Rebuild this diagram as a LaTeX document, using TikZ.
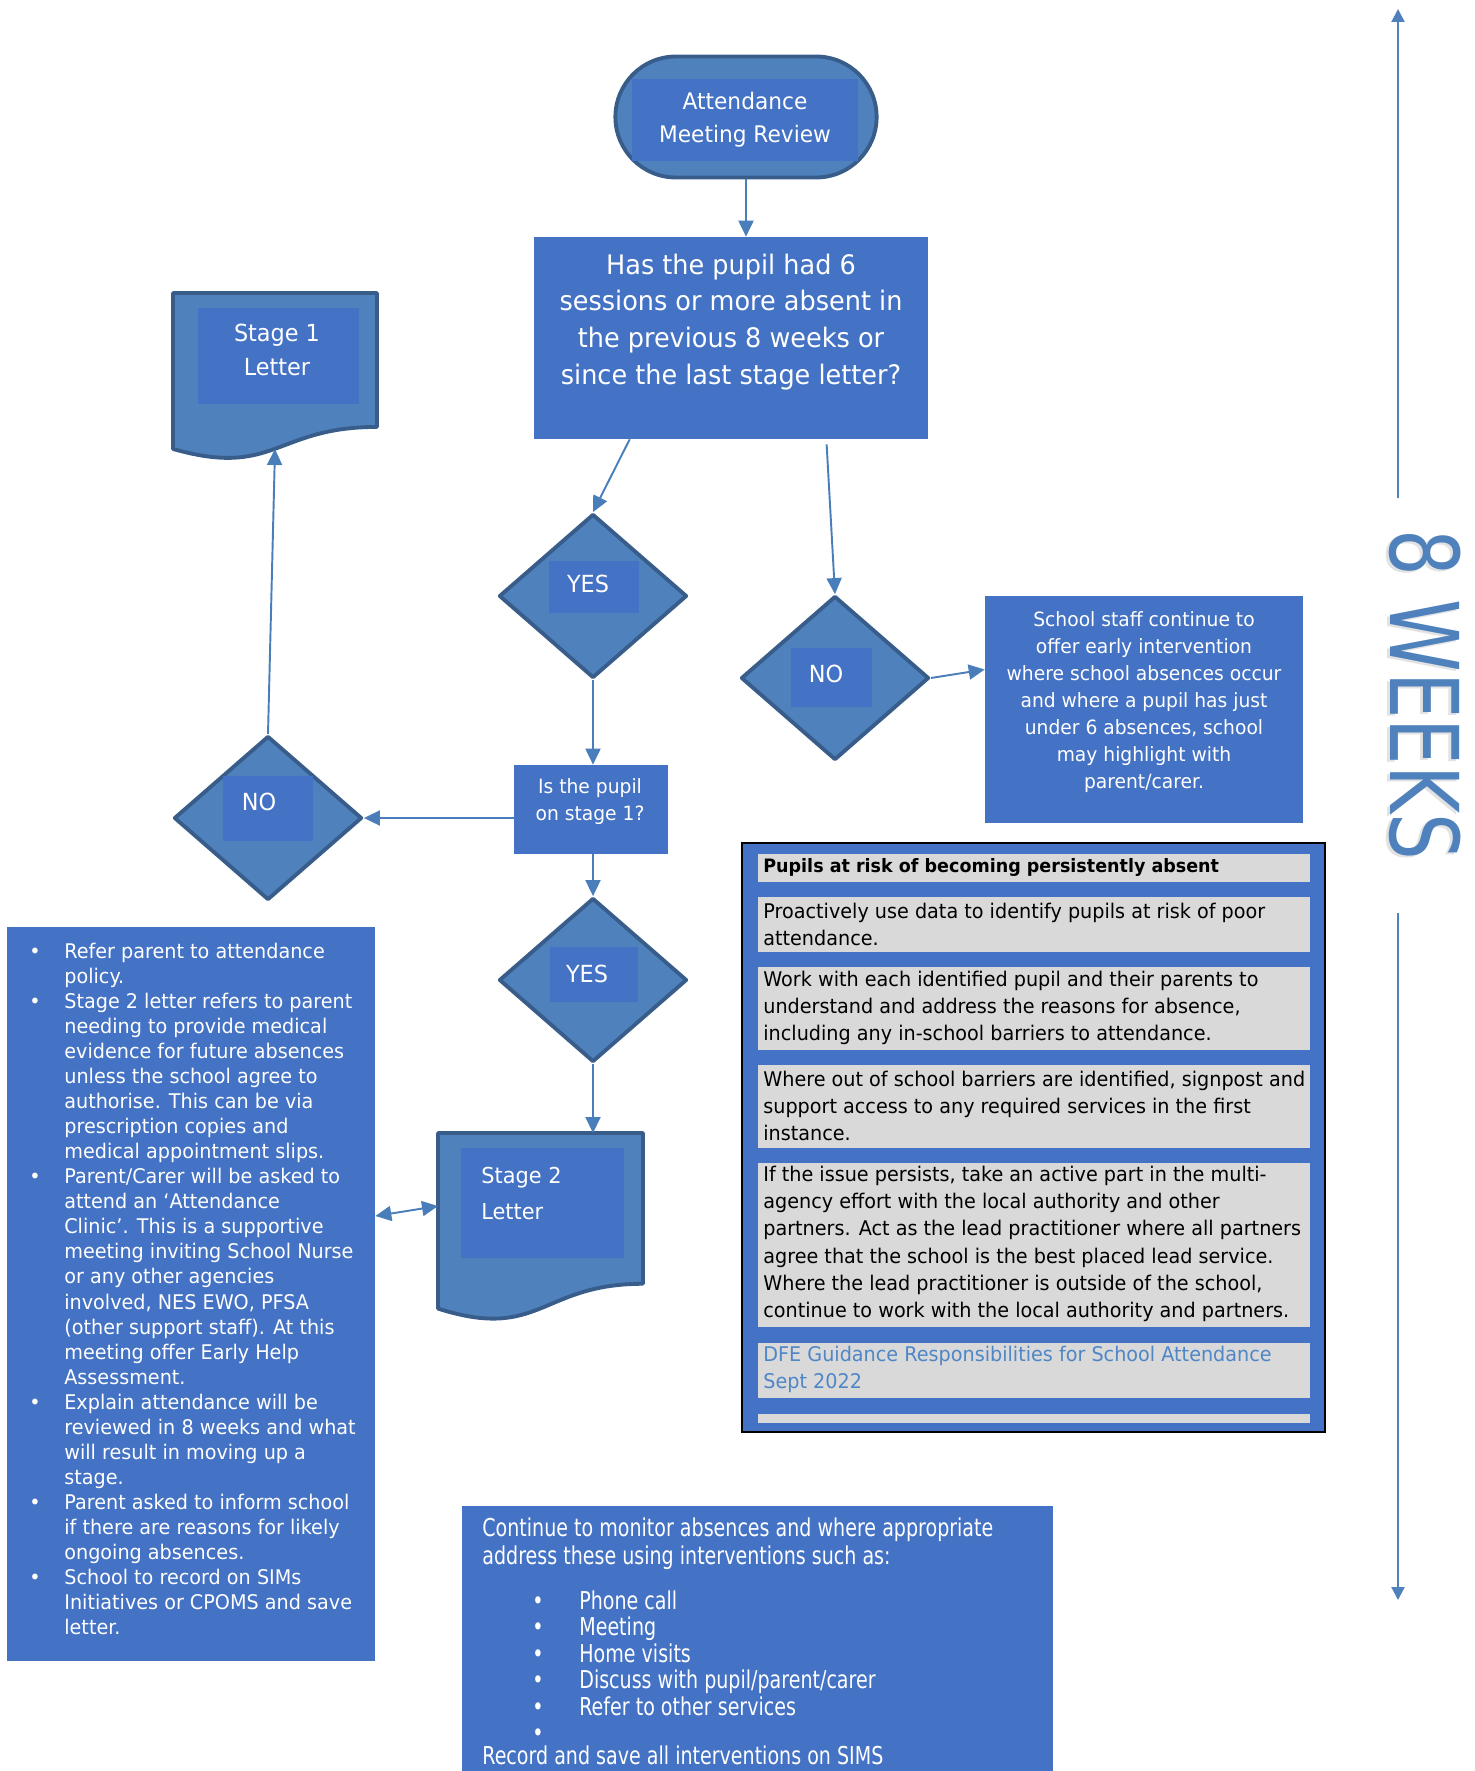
\documentclass[tikz,border=0pt]{standalone}
\usepackage{fontspec}
\setmainfont{DejaVu Sans}[FakeStretch=0.95]
\newfontfamily\condfont{DejaVu Sans}[FakeStretch=0.775]
\usetikzlibrary{arrows.meta,positioning,shapes.geometric,shapes.misc,calc}

\definecolor{shapefill}{HTML}{4F81BD}
\definecolor{shapeline}{HTML}{385D8A}
\definecolor{boxfill}{HTML}{4472C4}
\definecolor{arrowblue}{HTML}{4A7EBB}
\definecolor{rowgray}{HTML}{D9D9D9}
\definecolor{linkblue}{HTML}{4F86C6}

\newcommand{\setfs}[2]{\fontsize{#1pt}{#2pt}\selectfont}

% letter (document) outline round an empty node
\newcommand{\lettershape}[1]{%
  \draw[shapebox] (#1.north west) -- (#1.north east)
    -- ($(#1.north east)!0.802!(#1.south east)$)
    .. controls ($(#1.north)!0.802!(#1.south)$) and ($(#1.north)!1.1075!(#1.south)$)
    .. ($(#1.north west)!0.934!(#1.south west)$) -- cycle;}

\tikzset{
  shapebox/.style={fill=shapefill, draw=shapeline, line width=2.2pt, line join=round},
  terminal/.style={rounded rectangle, shapebox, minimum width=5.46cm, minimum height=2.42cm},
  decision/.style={diamond, shapebox, minimum width=3.76cm, minimum height=3.28cm, inner sep=0pt},
  docbox/.style={rectangle, outer sep=0pt, inner sep=0pt},
  innerbox/.style={fill=boxfill, text=white, inner sep=0pt, align=center},
  bluebox/.style={fill=boxfill, inner sep=0pt},
  whitetext/.style={text=white, inner sep=0pt},
  answer/.style={whitetext, font=\setfs{13.4}{16}},
  flow/.style={arrowblue, line width=1.1pt, -{Triangle[length=0.32cm, width=0.3cm]}},
  biflow/.style={arrowblue, line width=1.1pt, {Triangle[length=0.32cm, width=0.3cm]}-{Triangle[length=0.32cm, width=0.3cm]}},
  weeksflow/.style={shapefill, line width=1.3pt, -{Triangle[length=0.26cm, width=0.26cm]}},
  riskrow/.style={fill=rowgray},
  risktext/.style={anchor=west, align=left, inner sep=0pt, font=\setfs{11.5}{15.5}},
  weekslabel/.style={rotate=-90, font=\condfont\setfs{54}{60}, inner sep=0pt},
}

\begin{document}
\begin{tikzpicture}[x=0.02cm, y=-0.02cm]
  \useasboundingbox (0,0) rectangle (1474,1771);

  % Start
  \node[terminal] (review) at (746,117) {};
  \node[innerbox, minimum width=4.52cm, minimum height=1.66cm, font=\setfs{13}{19}] (reviewtxt) at (745,120) {Attendance\\Meeting Review};

  % Main question
  \node[bluebox, minimum width=7.88cm, minimum height=4.04cm] (question) at (731,338) {};
  \node[whitetext, align=center, font=\setfs{15.3}{21}] (questiontxt) at (731,322)
    {Has the pupil had 6\\sessions or more absent in\\the previous 8 weeks or\\since the last stage letter?};

  % Stage 1 letter
  \node[docbox, minimum width=4.08cm, minimum height=3.34cm] (stage1) at (275,376.5) {};
  \lettershape{stage1}
  \node[innerbox, minimum width=3.22cm, minimum height=1.92cm] (stage1in) at (278.5,356) {};
  \node[whitetext, align=center, font=\setfs{13.4}{19}] (stage1txt) at (277,350) {Stage 1\\Letter};

  % Decisions
  \node[decision] (yes1) at (593,596) {};
  \node[innerbox, minimum width=1.8cm, minimum height=1.04cm] (yes1in) at (594,587) {};
  \node[answer] (yes1txt) at (588,584) {YES};
  \node[decision] (no1) at (835,678) {};
  \node[innerbox, minimum width=1.62cm, minimum height=1.18cm] (no1in) at (831,677.5) {};
  \node[answer] (no1txt) at (826,674) {NO};

  % Early intervention
  \node[bluebox, minimum width=6.36cm, minimum height=4.54cm] (staff) at (1144,709.5) {};
  \node[whitetext, align=center, font=\setfs{11.2}{15.4}] (stafftxt) at (1144,702)
    {School staff continue to\\offer early intervention\\where school absences occur\\and where a pupil has just\\under 6 absences, school\\may highlight with\\parent/carer.};

  % Stage 1 check
  \node[bluebox, minimum width=3.08cm, minimum height=1.78cm] (onstage1) at (591,809.5) {};
  \node[whitetext, align=center, font=\setfs{11.2}{15.3}] (onstage1txt) at (590,802) {Is the pupil\\on stage 1?};

  \node[decision] (no2) at (268,818) {};
  \node[innerbox, minimum width=1.82cm, minimum height=1.3cm] (no2in) at (268,808) {};
  \node[answer] (no2txt) at (259,802) {NO};
  \node[decision] (yes2) at (593,980) {};
  \node[innerbox, minimum width=1.78cm, minimum height=1.1cm] (yes2in) at (594,974) {};
  \node[answer] (yes2txt) at (587,974) {YES};

  % Stage 2 letter
  \node[docbox, minimum width=4.1cm, minimum height=3.76cm] (stage2) at (540.5,1227) {};
  \lettershape{stage2}
  \node[innerbox, minimum width=3.26cm, minimum height=2.2cm] (stage2in) at (542.5,1203) {};
  \node[whitetext, anchor=west, align=left, font=\setfs{12.5}{20}] (stage2txt) at (481,1193.5) {Stage 2\\Letter};

  % Stage 2 actions
  \node[bluebox, minimum width=7.36cm, minimum height=14.68cm] (advice) at (191,1294) {};
  \node[whitetext, anchor=base west, font=\setfs{11.5}{14.27}] (advicetxt) at (29,958)
    {\begin{tabular}[t]{@{}p{0.7cm}@{}l@{}}
     \textbullet & Refer parent to attendance\\
                 & policy.\\
     \textbullet & Stage 2 letter refers to parent\\
                 & needing to provide medical\\
                 & evidence for future absences\\
                 & unless the school agree to\\
                 & authorise. This can be via\\
                 & prescription copies and\\
                 & medical appointment slips.\\
     \textbullet & Parent/Carer will be asked to\\
                 & attend an ‘Attendance\\
                 & Clinic’. This is a supportive\\
                 & meeting inviting School Nurse\\
                 & or any other agencies\\
                 & involved, NES EWO, PFSA\\
                 & (other support staff). At this\\
                 & meeting offer Early Help\\
                 & Assessment.\\
     \textbullet & Explain attendance will be\\
                 & reviewed in 8 weeks and what\\
                 & will result in moving up a\\
                 & stage.\\
     \textbullet & Parent asked to inform school\\
                 & if there are reasons for likely\\
                 & ongoing absences.\\
     \textbullet & School to record on SIMs\\
                 & Initiatives or CPOMS and save\\
                 & letter.
     \end{tabular}};

  % Persistent absence panel
  \node[fill=boxfill, draw=black, line width=0.8pt, minimum width=11.66cm, minimum height=11.78cm] (riskpanel) at (1033.5,1137.5) {};
  \fill[riskrow] (758,854) rectangle (1310,882);
  \fill[riskrow] (758,897) rectangle (1310,952);
  \fill[riskrow] (758,967) rectangle (1310,1050);
  \fill[riskrow] (758,1065) rectangle (1310,1148);
  \fill[riskrow] (758,1163) rectangle (1310,1327);
  \fill[riskrow] (758,1343) rectangle (1310,1398);
  \fill[riskrow] (758,1414) rectangle (1310,1423);
  \node[risktext, font=\setfs{10.5}{15.5}] (risk1) at (763,867) {\textbf{Pupils at risk of becoming persistently absent}};
  \node[risktext] (risk2) at (763,924.5) {Proactively use data to identify pupils at risk of poor\\attendance.};
  \node[risktext] (risk3) at (763,1008) {Work with each identified pupil and their parents to\\understand and address the reasons for absence,\\including any in-school barriers to attendance.};
  \node[risktext] (risk4) at (763,1106) {Where out of school barriers are identified, signpost and\\support access to any required services in the first\\instance.};
  \node[risktext] (risk5) at (763,1244) {If the issue persists, take an active part in the multi-\\agency effort with the local authority and other\\partners. Act as the lead practitioner where all partners\\agree that the school is the best placed lead service.\\Where the lead practitioner is outside of the school,\\continue to work with the local authority and partners.};
  \node[risktext, text=linkblue] (risk6) at (763,1369.5) {DFE Guidance Responsibilities for School Attendance\\Sept 2022};

  % Monitoring
  \node[bluebox, anchor=north west, minimum width=11.82cm, minimum height=6cm] (monitor) at (462,1506) {};
  \node[whitetext, anchor=base west, font=\condfont\setfs{14}{14.9}] (monitortxt) at (482,1536)
    {\begin{tabular}[t]{@{}p{1cm}@{}p{0.94cm}@{}l@{}}
     \multicolumn{3}{@{}l@{}}{Continue to monitor absences and where appropriate}\\[0.04cm]
     \multicolumn{3}{@{}l@{}}{address these using interventions such as:}\\[0.36cm]
     & \textbullet & Phone call\\
     & \textbullet & Meeting\\
     & \textbullet & Home visits\\
     & \textbullet & Discuss with pupil/parent/carer\\
     & \textbullet & Refer to other services\\
     & \textbullet & \\[-0.06cm]
     \multicolumn{3}{@{}l@{}}{Record and save all interventions on SIMS}
     \end{tabular}};

  % Timescale
  \coordinate (weekstop) at (1398,9);
  \coordinate (weeksup) at (1398,498);
  \coordinate (weeksdown) at (1398,913);
  \coordinate (weeksbot) at (1398,1600);
  \node[weekslabel, text=black!25, opacity=0.45] (weeksshadow) at (1422,697) {8 WEEKS};
  \node[weekslabel, text=shapefill] (weeks) at (1425,695) {8 WEEKS};
  \draw[weeksflow] (weeksup) -- (weekstop);
  \draw[weeksflow] (weeksdown) -- (weeksbot);

  % Connectors
  \draw[flow] (review.south) -- (review.south |- question.north);
  \draw[flow] ([xshift=1.92cm]question.south west) -- (yes1.north);
  \draw[flow] ([xshift=5.86cm,yshift=-0.1cm]question.south west) -- (no1.north);
  \draw[flow] (no1.east) -- ([yshift=0.8cm]staff.west);
  \draw[flow] (yes1.south) -- (yes1.south |- onstage1.north);
  \draw[flow] (no2.east -| onstage1.west) -- (no2.east);
  \draw[flow] (no2.north) -- ([yshift=0.22cm]stage1.south);
  \draw[flow] (yes2.north |- onstage1.south) -- (yes2.north);
  \draw[flow] (yes2.south) -- (yes2.south |- stage2.north);
  \draw[biflow] ([yshift=1.56cm]advice.east) -- ([yshift=0.42cm]stage2.west);
\end{tikzpicture}
\end{document}
